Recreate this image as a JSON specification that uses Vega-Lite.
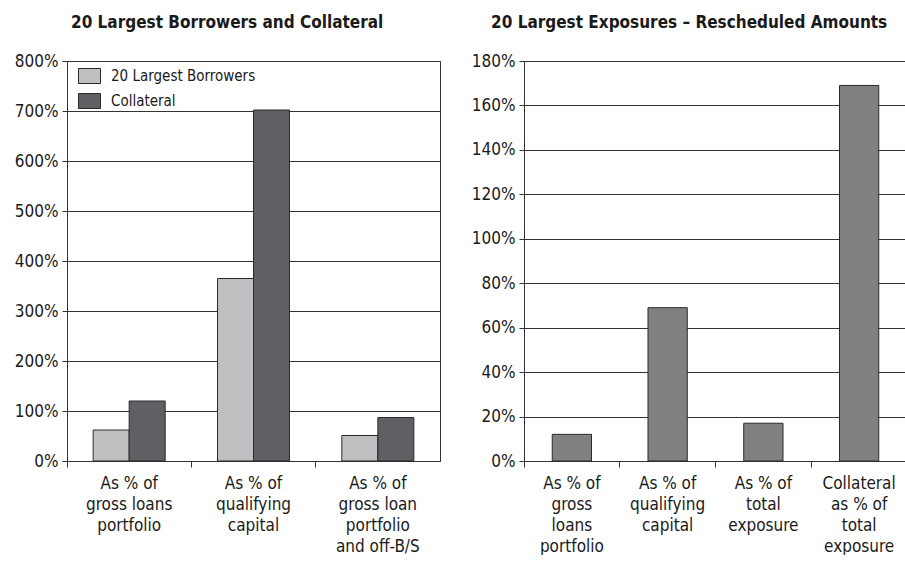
{
  "$schema": "https://vega.github.io/schema/vega-lite/v6.json",
  "background": "white",
  "padding": {"left": 13, "top": 13, "right": 0, "bottom": 0},
  "config": {
    "font": "DejaVu Sans Condensed",
    "view": {"stroke": "#333333", "strokeWidth": 1},
    "concat": {"spacing": 29},
    "title": {"font": "DejaVu Sans Condensed", "fontSize": 17, "fontWeight": "bold", "color": "#1a1a1a", "anchor": "middle", "frame": "bounds", "offset": 20},
    "axis": {
      "labelFont": "DejaVu Sans Condensed",
      "labelColor": "#1a1a1a",
      "domainColor": "#333333",
      "tickColor": "#333333",
      "gridColor": "#333333",
      "gridOpacity": 1,
      "title": null
    },
    "axisX": {
      "labelFontSize": 17,
      "labelAngle": 0,
      "labelLineHeight": 21,
      "labelPadding": 8,
      "tickSize": 6,
      "bandPosition": 0,
      "grid": false,
      "labelExpr": "split(datum.label, '|')"
    },
    "axisY": {
      "labelFontSize": 17,
      "labelPadding": 4,
      "tickSize": 5,
      "grid": true,
      "labelExpr": "datum.value + '%'"
    }
  },
  "datasets": {
    "borrowers": [
      {"measure": "As % of|gross loans|portfolio", "series": "20 Largest Borrowers", "pct": 62},
      {"measure": "As % of|gross loans|portfolio", "series": "Collateral", "pct": 120},
      {"measure": "As % of|qualifying|capital", "series": "20 Largest Borrowers", "pct": 365},
      {"measure": "As % of|qualifying|capital", "series": "Collateral", "pct": 702},
      {"measure": "As % of|gross loan|portfolio|and off-B/S", "series": "20 Largest Borrowers", "pct": 51},
      {"measure": "As % of|gross loan|portfolio|and off-B/S", "series": "Collateral", "pct": 87}
    ],
    "exposures": [
      {"measure": "As % of|gross|loans|portfolio", "pct": 12},
      {"measure": "As % of|qualifying|capital", "pct": 69},
      {"measure": "As % of|total|exposure", "pct": 17},
      {"measure": "Collateral|as % of|total|exposure", "pct": 169}
    ]
  },
  "hconcat": [
    {
      "title": "20 Largest Borrowers and Collateral",
      "width": 373,
      "height": 400,
      "data": {"name": "borrowers"},
      "mark": {"type": "bar", "stroke": "#2a2a2a", "strokeWidth": 1},
      "encoding": {
        "x": {
          "field": "measure",
          "type": "nominal",
          "sort": null,
          "scale": {"paddingInner": 0, "paddingOuter": 0}
        },
        "xOffset": {
          "field": "series",
          "type": "nominal",
          "sort": null,
          "scale": {"paddingInner": 0, "paddingOuter": 0.727}
        },
        "y": {
          "field": "pct",
          "type": "quantitative",
          "scale": {"domain": [0, 800], "nice": false},
          "axis": {"values": [0, 100, 200, 300, 400, 500, 600, 700, 800]}
        },
        "fill": {
          "field": "series",
          "type": "nominal",
          "sort": null,
          "scale": {"range": ["#c0c0c2", "#5f6063"]},
          "legend": {
            "title": null,
            "orient": "none",
            "legendX": 14.5,
            "legendY": 7,
            "direction": "vertical",
            "symbolType": "M-1.47,-1H1.47V1H-1.47Z",
            "symbolSize": 225,
            "symbolStrokeColor": "#2a2a2a",
            "symbolStrokeWidth": 1,
            "labelFont": "DejaVu Sans Condensed",
            "labelFontSize": 15,
            "labelColor": "#1a1a1a",
            "labelOffset": 13.5,
            "rowPadding": 5
          }
        }
      }
    },
    {
      "title": "20 Largest Exposures \u2013 Rescheduled Amounts",
      "width": 383,
      "height": 400,
      "data": {"name": "exposures"},
      "mark": {"type": "bar", "fill": "#808080", "stroke": "#2a2a2a", "strokeWidth": 1, "width": {"band": 0.41}},
      "encoding": {
        "x": {
          "field": "measure",
          "type": "nominal",
          "sort": null,
          "scale": {"paddingInner": 0, "paddingOuter": 0}
        },
        "y": {
          "field": "pct",
          "type": "quantitative",
          "scale": {"domain": [0, 180], "nice": false},
          "axis": {"values": [0, 20, 40, 60, 80, 100, 120, 140, 160, 180]}
        }
      }
    }
  ]
}
